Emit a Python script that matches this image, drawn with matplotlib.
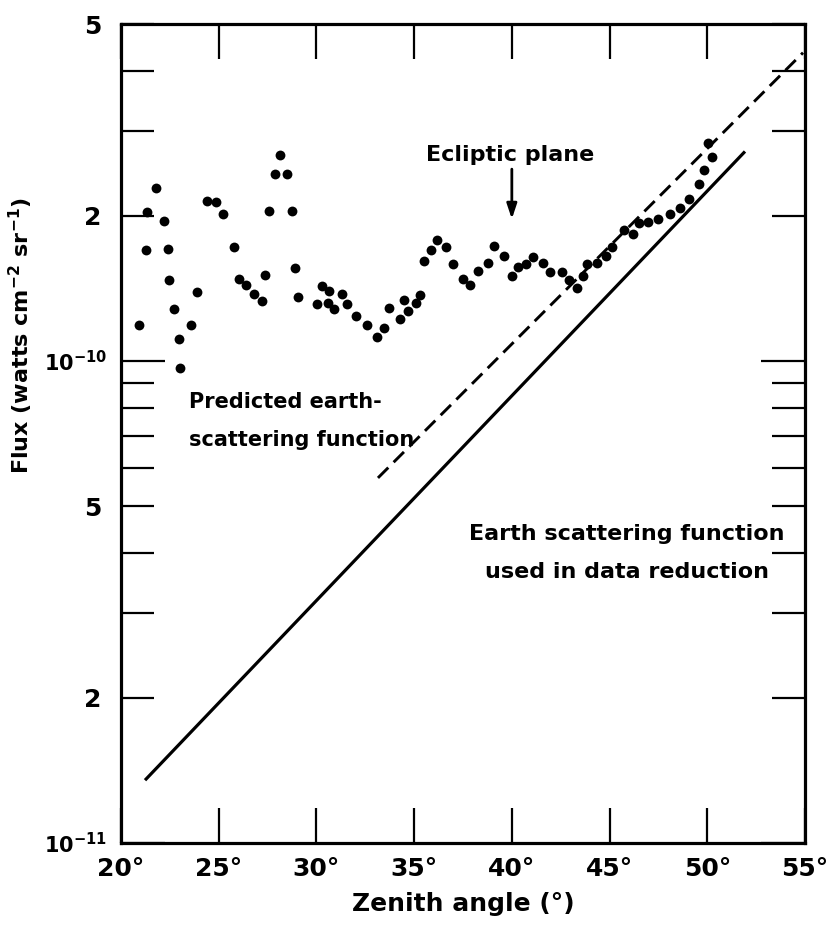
import matplotlib
matplotlib.use("Agg")
import matplotlib.pyplot as plt
from matplotlib.ticker import FixedLocator, FixedFormatter

# Observed flux points (zenith angle in degrees, flux in 1e-10 W cm^-2 sr^-1)
zenith = [21.78, 21.32, 22.20, 21.26, 22.40, 22.44, 23.87, 22.71, 20.92, 23.57,
          22.98, 23.02, 24.39, 24.86, 25.23, 25.78, 26.05, 26.40, 28.14, 27.88,
          28.49, 27.56, 28.77, 28.92, 27.37, 26.82, 27.20, 29.07, 30.30, 30.64,
          31.32, 30.01, 30.61, 30.91, 31.58, 32.01, 32.57, 33.08, 33.46, 33.71,
          34.26, 34.48, 34.67, 35.09, 35.31, 35.49, 35.88, 36.17, 36.61, 37.00,
          37.48, 37.84, 38.25, 38.79, 39.10, 39.58, 39.99, 40.33, 40.74, 41.10,
          41.61, 41.97, 42.55, 42.91, 43.33, 43.66, 43.84, 44.37, 44.82, 45.11,
          45.75, 46.21, 46.52, 46.98, 47.46, 48.09, 48.60, 49.08, 49.58, 49.83,
          50.23, 50.02]
flux = [2.28, 2.04, 1.95, 1.70, 1.71, 1.47, 1.39, 1.28, 1.19, 1.19,
        1.11, 0.969, 2.15, 2.14, 2.02, 1.72, 1.48, 1.44, 2.67, 2.44,
        2.44, 2.05, 2.05, 1.56, 1.51, 1.38, 1.33, 1.36, 1.43, 1.40,
        1.38, 1.31, 1.32, 1.28, 1.31, 1.24, 1.19, 1.12, 1.17, 1.29,
        1.22, 1.34, 1.27, 1.32, 1.37, 1.61, 1.70, 1.78, 1.72, 1.59,
        1.48, 1.44, 1.54, 1.60, 1.73, 1.65, 1.50, 1.57, 1.59, 1.64,
        1.60, 1.53, 1.53, 1.47, 1.42, 1.50, 1.59, 1.60, 1.65, 1.72,
        1.87, 1.83, 1.93, 1.94, 1.97, 2.02, 2.08, 2.17, 2.33, 2.49,
        2.65, 2.83]
flux = [f * 1e-10 for f in flux]

# Earth scattering function used in data reduction (solid)
used_x = [21.23, 51.93]
used_y = [1.35e-11, 2.72e-10]
# Predicted earth-scattering function (dashed)
pred_x = [33.15, 54.90]
pred_y = [5.72e-11, 4.36e-10]

x_ticks = [20, 25, 30, 35, 40, 45, 50, 55]
x_labels = ["20°", "25°", "30°", "35°", "40°", "45°", "50°", "55°"]
y_major = [1e-11, 1e-10]
y_major_labels = [r"$\mathbf{10^{-11}}$", r"$\mathbf{10^{-10}}$"]
y_minor = [2e-11, 3e-11, 4e-11, 5e-11, 6e-11, 7e-11, 8e-11, 9e-11,
           2e-10, 3e-10, 4e-10, 5e-10]
y_minor_labels = ["2", "", "", "5", "", "", "", "", "2", "", "", "5"]

plt.rcParams["font.weight"] = "bold"
plt.rcParams["mathtext.default"] = "bf"

fig = plt.figure(figsize=(8.36, 9.31), dpi=100)
ax = fig.add_axes([0.1447, 0.0945, 0.8182, 0.8797])

ax.plot(used_x, used_y, color="black", lw=2.3, solid_capstyle="butt")
ax.plot(pred_x, pred_y, color="black", lw=2.1, dashes=(5, 2.6))
ax.scatter(zenith, flux, s=50, color="black", zorder=3, linewidths=0)

ax.set_yscale("log")
ax.set_xlim(20, 55)
ax.set_ylim(1e-11, 5e-10)

ax.xaxis.set_major_locator(FixedLocator(x_ticks))
ax.xaxis.set_major_formatter(FixedFormatter(x_labels))
ax.xaxis.set_minor_locator(FixedLocator([]))
ax.yaxis.set_major_locator(FixedLocator(y_major))
ax.yaxis.set_major_formatter(FixedFormatter(y_major_labels))
ax.yaxis.set_minor_locator(FixedLocator(y_minor))
ax.yaxis.set_minor_formatter(FixedFormatter(y_minor_labels))

ax.tick_params(axis="x", which="major", direction="in", length=25, width=1.6,
               top=True, bottom=True, labelsize=18, pad=10)
ax.tick_params(axis="y", which="major", direction="in", length=32, width=1.6,
               left=True, right=True, labelsize=15, pad=10)
ax.tick_params(axis="y", which="minor", direction="in", length=24, width=1.6,
               left=True, right=True, labelsize=18, pad=14)
for sp in ax.spines.values():
    sp.set_linewidth(2.3)

ax.set_xlabel("Zenith angle (°)", fontsize=18, fontweight="bold", labelpad=8)
ax.set_ylabel(r"Flux (watts cm$^{-2}$ sr$^{-1}$)", fontsize=16, fontweight="bold")
ax.yaxis.set_label_coords(-0.125, 0.62)

ax.text(39.9, 2.67e-10, "Ecliptic plane", fontsize=16, ha="center", va="center")
ax.annotate("", xy=(40.0, 1.97e-10), xytext=(40.0, 2.5e-10),
            arrowprops=dict(arrowstyle="-|>,head_length=0.9,head_width=0.3",
                            color="black", lw=2.0, shrinkA=0, shrinkB=0))
ax.text(23.5, 7.5e-11, "Predicted earth-\nscattering function", fontsize=15,
        ha="left", va="center", linespacing=2.1)
ax.text(45.9, 4.0e-11, "Earth scattering function\nused in data reduction",
        fontsize=16, ha="center", va="center", linespacing=2.1)

fig.savefig("out.png", dpi=100)
